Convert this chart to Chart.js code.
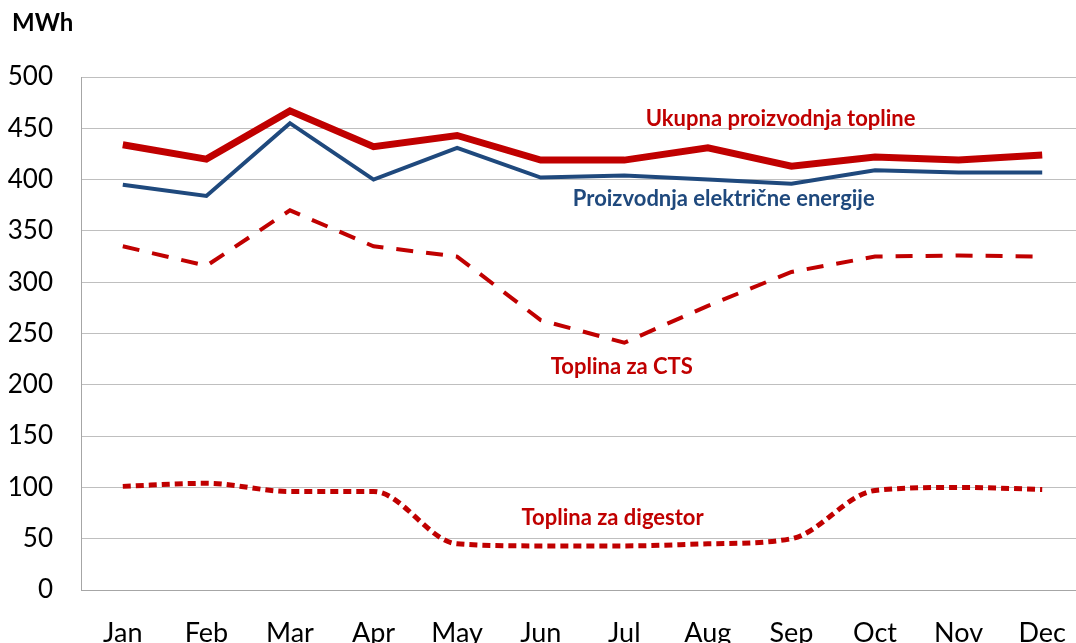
<!DOCTYPE html>
<html>
<head>
<meta charset="utf-8">
<script src="https://cdn.jsdelivr.net/npm/chart.js@4"></script>
<style>
html,body{margin:0;padding:0;overflow:hidden;background:#fff;width:1076px;height:643px;}
#wrap{position:absolute;left:0;top:0;width:1100px;height:660px;}
</style>
</head>
<body>
<div id="wrap"><canvas id="c" width="1100" height="660"></canvas></div>
<script>
const months = ['Jan','Feb','Mar','Apr','May','Jun','Jul','Aug','Sep','Oct','Nov','Dec'];
const ukupnaToplina = [434, 420, 467, 432, 443, 419, 419, 431, 413, 422, 419, 424];
const elektricnaEnergija = [395, 384, 455, 400, 431, 402, 404, 400, 396, 409, 407, 407];
const toplinaCTS = [335, 316, 370, 335, 325, 263, 241, 277, 310, 325, 326, 325];
const toplinaDigestor = [101, 104, 96, 96, 45, 43, 43, 45, 50, 97, 100, 98];
const yTicks = [0, 50, 100, 150, 200, 250, 300, 350, 400, 450, 500];

const FONT = 'Lato, "Open Sans", "Liberation Sans", sans-serif';
const RED = '#C00000';
const BLUE = '#1F497D';

const seriesLabels = [
  {text:'Ukupna proizvodnja topline', color:RED, x:7.87, y:459},
  {text:'Proizvodnja električne energije', color:BLUE, x:7.19, y:381},
  {text:'Toplina za CTS', color:RED, x:5.97, y:217},
  {text:'Toplina za digestor', color:RED, x:5.86, y:70}
];

const labelPlugin = {
  id:'labels',
  afterDatasetsDraw(chart){
    const ctx = chart.ctx;
    const xs = chart.scales.x, ys = chart.scales.y;
    ctx.save();
    ctx.font = 'bold 22px ' + FONT;
    ctx.textAlign = 'center';
    ctx.textBaseline = 'middle';
    seriesLabels.forEach(l=>{
      ctx.fillStyle = l.color;
      ctx.fillText(l.text, xs.getPixelForValue(l.x), ys.getPixelForValue(l.y));
    });
    ctx.fillStyle = '#000';
    ctx.font = 'bold 24px ' + FONT;
    ctx.textAlign = 'left';
    ctx.fillText('MWh', 12, 23);
    ctx.restore();
  }
};

new Chart(document.getElementById('c'), {
  type:'line',
  data:{
    labels: months,
    datasets:[
      {label:'Ukupna proizvodnja topline', data:ukupnaToplina, borderColor:RED, borderWidth:7, pointRadius:0, tension:0, borderJoinStyle:'miter'},
      {label:'Proizvodnja električne energije', data:elektricnaEnergija, borderColor:BLUE, borderWidth:4, pointRadius:0, tension:0},
      {label:'Toplina za CTS', data:toplinaCTS, borderColor:RED, borderWidth:4, borderDash:[17,13], pointRadius:0, tension:0},
      {label:'Toplina za digestor', data:toplinaDigestor, borderColor:RED, borderWidth:5, borderDash:[8,5], borderCapStyle:'butt', pointRadius:0, cubicInterpolationMode:'monotone'}
    ]
  },
  options:{
    responsive:false,
    animation:false,
    devicePixelRatio:1,
    layout:{padding:{top:77, right:16, left:0, bottom:0}},
    plugins:{legend:{display:false}, tooltip:{enabled:false}},
    scales:{
      x:{
        offset:true,
        grid:{display:false, drawTicks:false},
        border:{display:true, color:'#A6A6A6', width:1},
        ticks:{color:'#000', font:{family:FONT, size:27}, padding:27, maxRotation:0, autoSkip:false},
        afterFit(s){ s.height = 70; }
      },
      y:{
        min:0, max:500,
        afterBuildTicks(s){ s.ticks = yTicks.map(v=>({value:v})); },
        grid:{color:'#BFBFBF', lineWidth:1, drawTicks:false},
        border:{display:true, color:'#A6A6A6', width:1},
        ticks:{color:'#000', font:{family:FONT, size:26}, padding:28},
        afterFit(s){ s.width = 81; }
      }
    }
  },
  plugins:[labelPlugin]
});
</script>
</body>
</html>
